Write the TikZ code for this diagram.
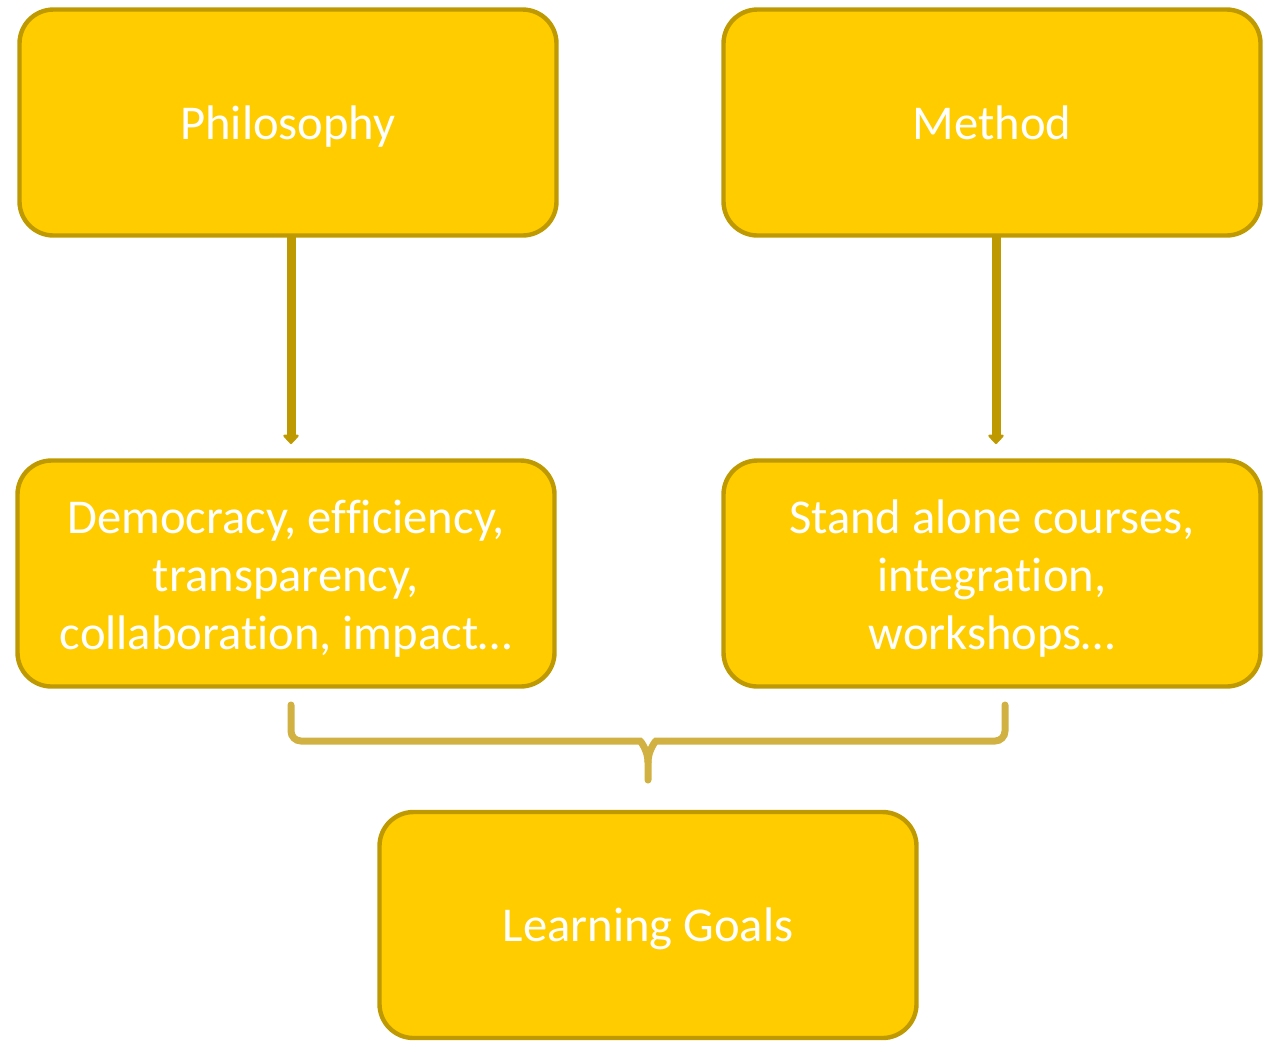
\documentclass[tikz,border=0pt]{standalone}
\usepackage{fontspec}
\setmainfont{Carlito}[Ligatures={NoCommon}]
\usetikzlibrary{arrows.meta}
\definecolor{boxfill}{HTML}{FFCC00}
\definecolor{boxline}{HTML}{BF9900}
\definecolor{bracecol}{HTML}{D1B141}
\tikzset{
  gbox/.style={draw=boxline, line width=2.2pt, fill=boxfill, rounded corners=17pt,
    minimum width=268.5pt, minimum height=113pt, inner sep=0pt},
  gtext/.style={text=white, align=center, yshift=-2.5pt,
    font=\fontsize{24.3}{29}\selectfont, inner sep=0pt,
    execute at begin node=\strut, execute at end node=\strut},
  garrow/.style={draw=boxline, line width=4.5pt, -{Triangle[width=9pt,length=5pt,round]}, shorten >=2pt},
  brace/.style={draw=bracecol, line width=3.5pt, line cap=round, rounded corners=5pt}
}
\begin{document}
\begin{tikzpicture}[x=0.5pt,y=-0.5pt]
\useasboundingbox (0,0) rectangle (1273,1041);
\node[gbox, label={[gtext]center:Philosophy}] (phil) at (288,122.5) {};
\node[gbox, label={[gtext]center:Method}] (meth) at (992,122.5) {};
\node[gbox, label={[gtext,yshift=-2.5pt]center:Democracy, efficiency,\\transparency,\\collaboration, impact…}] (dem) at (286,573.5) {};
\node[gbox, label={[gtext,yshift=-2.5pt]center:Stand alone courses,\\integration,\\workshops…}] (stand) at (992,573.5) {};
\node[gbox, label={[gtext]center:Learning Goals}] (goals) at (648,925) {};
\coordinate (p0) at (291,236);
\coordinate (p1) at (291,448);
\coordinate (m0) at (996,236);
\coordinate (m1) at (996,448);
\draw[garrow] (p0) -- (p1);
\draw[garrow] (m0) -- (m1);
\coordinate (bl) at (291,705);
\coordinate (br) at (1005,705);
\coordinate (bm) at (648,780);
\draw[brace] (bl) -- (291,741) -- (630,741) [sharp corners] to[out=0,in=90] (648,762) -- (bm);
\draw[brace] (br) -- (1005,741) -- (666,741) [sharp corners] to[out=180,in=90] (648,762);
\end{tikzpicture}
\end{document}
